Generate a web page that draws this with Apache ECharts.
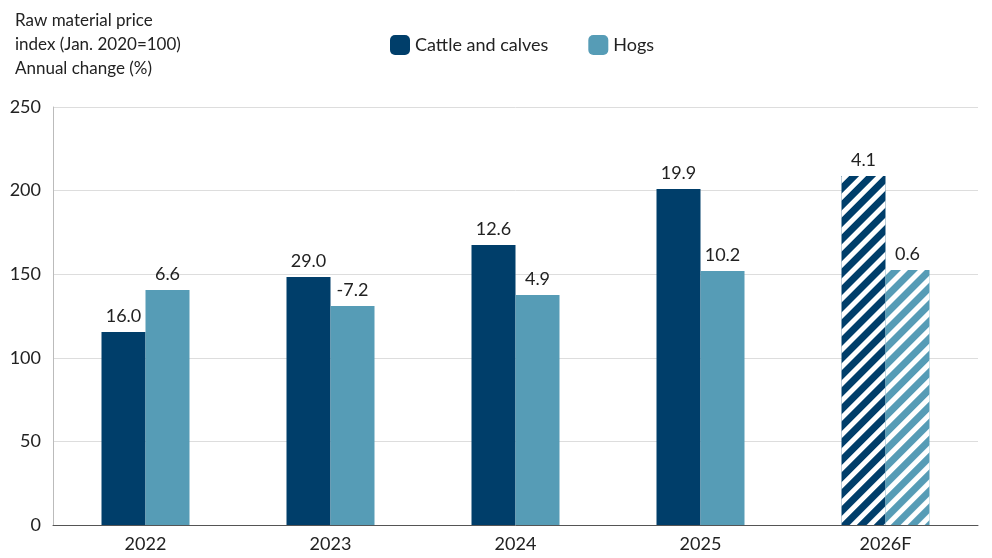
<!DOCTYPE html>
<html><head><meta charset="utf-8">
<script src="https://cdn.jsdelivr.net/npm/echarts@6/dist/echarts.min.js"></script>
<style>html,body{margin:0;padding:0;background:#fff}#c{width:992px;height:558px}</style>
</head><body><div id="c"></div>
<script>
const categories = ['2022','2023','2024','2025','2026F'];
const cattleValues = [115.5, 148.3, 167.5, 201, 208.7];
const hogsValues = [140.5, 131, 137.6, 151.9, 152.5];
const cattleChange = ['16.0','29.0','12.6','19.9','4.1'];
const hogsChange = ['6.6','-7.2','4.9','10.2','0.6'];
const yTicks = [0,50,100,150,200,250];

const decal = {symbol:'rect', symbolSize:1, dashArrayX:[1,0], dashArrayY:[5,7], rotation:-Math.PI/4, color:'#ffffff'};
function mk(vals, color){
  return vals.map((v,i)=> i===4 ? {value:v, itemStyle:{color, decal}} : {value:v});
}
const font = 'Lato, "Noto Sans", sans-serif';
const chart = echarts.init(document.getElementById('c'));
chart.setOption({
  animation:false,
  textStyle:{fontFamily:font},
  title:{text:'Raw material price\nindex (Jan. 2020=100)\nAnnual change (%)', left:10, top:4,
    textStyle:{fontSize:17, fontWeight:'normal', color:'#222', lineHeight:24, fontFamily:font}},
  legend:{left:385, top:30, itemWidth:20, itemHeight:20, itemGap:40,
    textStyle:{fontSize:18, color:'#222'}, data:['Cattle and calves','Hogs']},
  grid:{left:53, right:14, top:107, bottom:33},
  xAxis:{type:'category', data:categories,
    axisLine:{lineStyle:{color:'#555'}}, axisTick:{show:false},
    axisLabel:{fontSize:18, color:'#222', margin:10}},
  yAxis:{type:'value', min:0, max:250, interval:50,
    axisLine:{show:true, lineStyle:{color:'#bbb'}},
    splitLine:{lineStyle:{color:'#ddd'}},
    axisLabel:{fontSize:18, color:'#222', margin:12}},
  series:[
    {name:'Cattle and calves', type:'bar', barWidth:44, barGap:'0%', itemStyle:{color:'#003e6a'},
      data:mk(cattleValues,'#003e6a'),
      label:{show:true, position:'top', fontSize:18, color:'#222', distance:7,
        formatter:p=>cattleChange[p.dataIndex]}},
    {name:'Hogs', type:'bar', barWidth:44, itemStyle:{color:'#569cb6'},
      data:mk(hogsValues,'#569cb6'),
      label:{show:true, position:'top', fontSize:18, color:'#222', distance:7,
        formatter:p=>hogsChange[p.dataIndex]}}
  ]
});
</script></body></html>
